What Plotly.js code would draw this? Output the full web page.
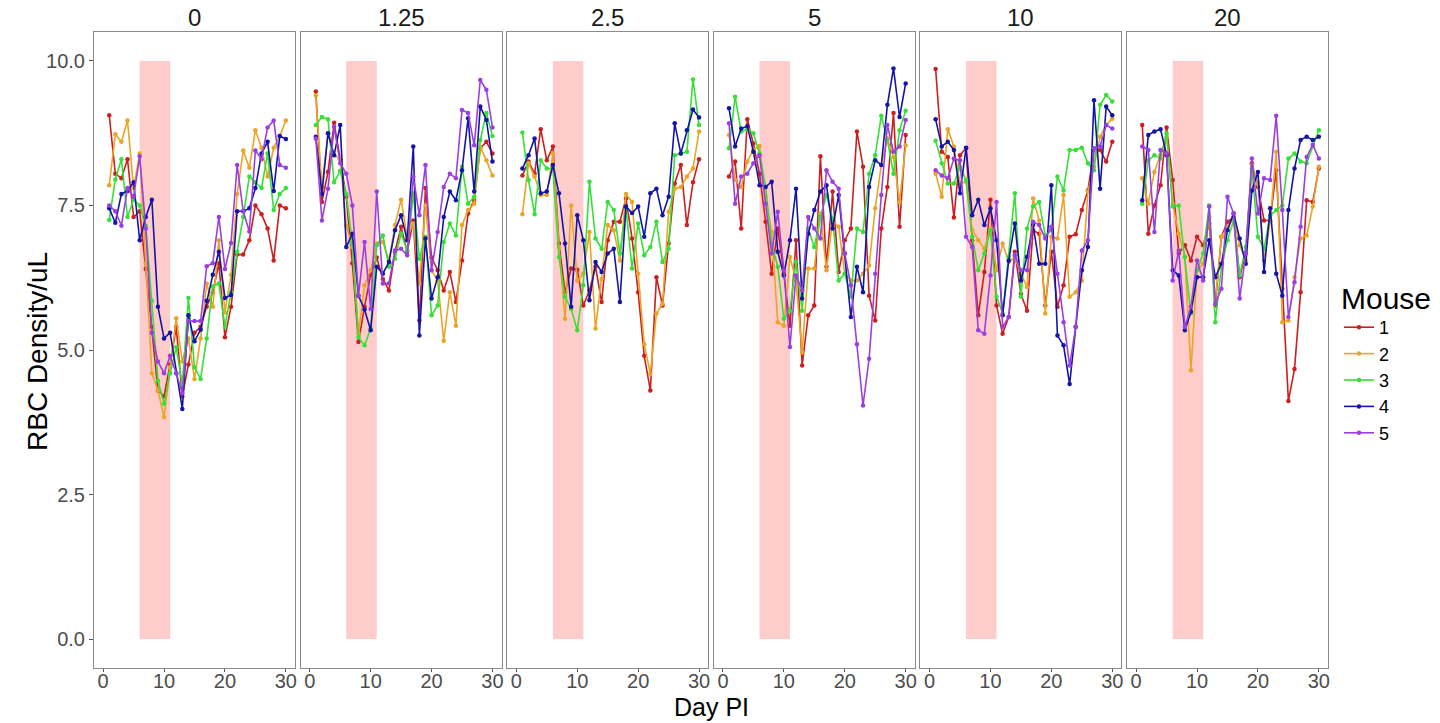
<!DOCTYPE html>
<html><head><meta charset="utf-8">
<script src="https://cdn.plot.ly/plotly-3.0.1.min.js"></script>
<style>html,body{margin:0;padding:0;background:#fff}#chart{width:1440px;height:723px}</style>
</head><body><div id="chart"></div>
<script>
// ---------------- data ----------------
const days = [1,2,3,4,5,6,7,8,9,10,11,12,13,14,15,16,17,18,19,20,21,22,23,24,25,26,27,28,29,30];
const groups = ["0", "1.25", "2.5", "5", "10", "20"];
const mice = ["1", "2", "3", "4", "5"];
const mouseColors = ["#cc1f1f", "#eba526", "#36e036", "#1414a6", "#9b3fe0"];
const shadeDays = [6, 11];
const shadeRBC = [0, 10];
const yTickVals = [0, 2.5, 5, 7.5, 10];
const xTickVals = [0, 10, 20, 30];

// group "0"
const g0_m1 = [9.06,8.05,7.97,8.3,7.3,7.4,6.4,5.4,4.3,4.2,4.75,5.4,4.2,4.75,5.3,5.4,5.75,6.0,6.5,5.22,5.75,6.65,6.65,6.9,7.5,7.35,7.1,6.55,7.5,7.45];
const g0_m2 = [7.85,8.73,8.6,8.97,7.8,8.4,6.5,4.6,4.3,3.84,4.7,5.55,4.8,5.2,4.5,5.2,6.15,5.75,6.9,5.65,6.3,7.7,8.45,8.15,8.8,8.5,8.0,8.5,8.7,8.97];
const g0_m3 = [7.25,7.95,8.3,7.3,7.6,7.5,7.15,5.85,4.47,4.07,4.6,5.05,4.4,5.9,4.7,4.5,5.2,6.1,6.15,5.4,6.0,6.7,7.3,8.0,7.9,7.8,8.4,7.42,7.7,7.8];
const g0_m4 = [7.45,7.2,7.7,7.75,7.9,6.9,7.3,7.6,5.75,5.2,5.3,4.6,3.98,5.6,5.15,5.35,5.85,6.3,6.7,5.9,5.95,7.4,7.4,7.45,7.8,8.4,8.6,7.75,8.7,8.65];
const g0_m5 = [7.5,7.4,7.15,7.8,7.65,8.35,7.1,5.3,4.8,4.6,4.9,4.6,4.25,5.5,5.5,5.5,6.45,6.5,7.3,6.4,6.85,8.2,7.4,7.05,8.45,8.3,8.85,8.97,8.2,8.15];
// group "1.25"
const g1_m1 = [9.47,7.56,8.08,8.93,8.3,7.65,6.5,5.14,5.75,6.3,6.6,6.23,6.03,6.7,7.13,6.7,7.24,5.51,7.8,6.6,6.38,6.03,6.35,5.83,6.55,7.36,7.6,8.49,8.6,8.4];
const g1_m2 = [9.4,7.82,8.75,8.37,8.3,7.15,6.78,5.28,6.12,6.38,6.84,6.87,6.55,7.16,7.6,6.95,7.19,6.15,7.5,6.38,6.2,5.16,6.0,5.42,7.16,7.42,7.53,8.51,8.28,8.02];
const g1_m3 = [8.89,9.03,8.99,7.9,8.1,7.7,6.84,5.22,5.08,5.37,6.81,6.98,6.44,6.58,7.01,6.72,7.71,6.58,6.96,5.6,5.77,6.87,7.19,6.98,8.17,7.53,7.65,8.63,9.1,8.7];
const g1_m4 = [8.69,7.7,8.75,8.37,8.89,6.78,7.01,5.94,5.7,5.34,6.44,6.32,6.52,7.07,7.33,6.9,8.52,5.25,6.93,5.89,6.26,7.3,7.74,7.59,8.11,9.01,7.74,9.21,8.98,8.26];
const g1_m5 = [8.66,7.24,7.79,8.86,8.23,8.05,7.5,5.94,6.87,5.71,7.74,6.15,6.15,6.72,6.75,6.64,8.0,7.33,8.2,6.38,7.04,7.82,8.05,7.97,9.15,9.1,8.54,9.67,9.5,8.85];
// group "2.5" (no mouse 5)
const g2_m1 = [8.02,8.26,8.05,8.82,8.28,8.52,6.84,6.0,6.41,6.39,5.77,6.03,6.44,5.83,6.9,7.22,7.22,7.62,6.93,6.0,4.9,4.3,6.26,5.77,6.84,7.88,8.2,7.16,7.9,8.3];
const g2_m2 = [7.35,8.23,8.0,7.68,7.68,8.4,6.78,5.54,7.5,6.2,6.32,7.04,5.37,6.23,7.16,7.07,6.55,7.7,7.56,6.32,5.1,4.59,5.63,5.8,7.39,7.79,7.82,8.0,8.14,8.78];
const g2_m3 = [8.76,7.94,7.35,8.28,8.14,8.14,6.61,5.92,5.71,5.34,6.12,7.91,6.93,6.75,7.56,7.42,6.67,7.45,6.41,7.19,6.64,6.78,7.22,6.52,6.75,8.37,8.4,8.43,9.68,8.89];
const g2_m4 = [8.14,8.37,8.66,7.71,7.74,8.2,7.71,6.84,5.75,7.33,6.9,5.86,6.52,6.35,6.67,6.75,5.83,7.48,7.37,7.48,6.96,7.71,7.79,7.33,7.65,8.92,8.4,8.8,9.16,9.02];
// group "5"
const g3_m1 = [8.0,8.26,7.1,8.99,8.57,8.05,7.22,6.32,7.1,6.32,5.42,6.9,4.73,5.6,5.77,8.35,6.44,7.74,6.35,6.9,7.1,8.78,8.17,5.94,5.51,7.1,7.82,9.1,7.13,8.72];
const g3_m2 = [8.72,7.94,7.82,8.26,8.46,8.53,7.65,7.04,5.48,5.42,6.61,6.2,4.96,6.41,6.41,7.36,6.38,7.24,7.13,6.32,6.2,6.2,6.32,6.46,7.45,8.2,8.66,8.34,7.56,8.54];
const g3_m3 = [8.49,9.38,8.78,8.82,8.75,8.4,7.82,6.84,6.44,5.54,5.68,6.52,5.68,7.1,6.78,7.3,7.68,7.27,6.2,6.32,5.92,7.1,7.04,8.05,8.37,9.05,8.63,8.05,8.8,9.14];
const g3_m4 = [9.18,8.52,8.83,8.87,8.43,7.85,7.82,7.91,6.7,6.29,6.9,7.79,5.89,7.01,7.42,7.74,7.85,7.1,7.68,6.67,5.57,6.44,6.0,7.82,8.28,8.2,9.24,9.87,9.03,9.61];
const g3_m5 = [8.92,7.53,8.0,8.05,8.23,8.37,7.53,6.67,7.39,6.38,5.05,6.29,6.03,7.3,7.1,6.93,8.11,7.91,7.79,6.67,6.12,5.1,4.04,4.85,6.32,7.68,8.89,8.43,8.52,8.98];
// group "10"
const g4_m1 = [9.86,8.43,8.34,7.29,8.37,8.49,6.9,5.6,6.35,7.6,5.77,5.28,5.57,6.7,5.97,5.68,7.07,7.01,5.77,6.7,5.75,6.12,6.96,7.0,7.42,7.76,8.46,8.46,8.26,8.6];
const g4_m2 = [8.05,7.65,8.82,8.52,7.88,7.91,7.07,6.9,6.75,7.1,6.38,6.84,6.52,6.61,6.32,6.09,7.62,7.24,5.63,6.96,6.93,7.68,5.92,6.0,6.2,7.74,8.17,8.69,8.89,9.0];
const g4_m3 = [8.62,8.23,7.88,7.88,8.17,7.94,6.96,6.38,6.67,7.07,5.92,5.63,6.61,7.71,5.92,7.1,7.48,7.56,6.98,7.07,8.0,7.76,8.46,8.46,8.5,8.23,8.11,9.24,9.41,9.3];
const g4_m4 = [8.99,8.52,8.6,8.46,7.71,8.5,7.33,7.6,7.16,7.45,6.9,5.6,6.55,7.19,6.2,6.61,7.16,6.49,6.49,7.85,5.25,5.08,4.41,5.4,6.38,6.78,9.32,7.79,9.21,9.06];
const g4_m5 = [8.11,8.02,7.97,8.31,8.28,6.96,6.78,5.34,5.28,6.29,7.56,5.4,5.57,6.64,6.38,6.38,7.22,7.16,6.93,7.13,6.32,5.48,4.73,5.4,6.72,6.9,8.49,8.52,8.89,8.83];
// group "20"
const g5_m1 = [8.89,7.01,7.5,7.85,8.85,7.94,6.67,6.81,6.55,6.96,6.81,7.19,5.77,6.96,7.22,7.3,6.26,6.67,8.23,7.82,7.24,7.24,8.11,6.06,4.12,4.67,6.0,7.59,7.56,8.14];
const g5_m2 = [7.97,7.53,8.08,8.37,8.69,7.53,7.01,6.61,4.65,6.38,6.49,7.3,5.85,6.96,7.13,7.27,6.81,6.55,8.2,7.88,6.55,7.22,8.43,5.48,5.51,6.26,6.93,6.98,7.48,8.17];
const g5_m3 = [7.53,8.28,8.37,8.31,8.75,7.48,7.5,6.61,5.63,6.38,6.67,7.5,5.48,6.44,6.9,7.24,6.29,6.78,8.14,6.96,6.75,7.33,7.42,7.5,8.31,8.4,8.26,8.23,8.52,8.8];
const g5_m4 = [7.59,8.72,8.78,8.82,8.37,6.38,6.29,5.34,5.66,6.26,6.26,6.9,6.26,6.49,7.07,7.36,6.93,6.49,7.76,8.08,6.35,7.45,6.32,5.94,7.42,8.14,8.63,8.69,8.63,8.69];
const g5_m5 = [8.52,8.46,7.04,8.46,8.4,6.2,6.72,5.4,5.75,6.55,6.2,7.48,5.8,6.06,7.65,7.36,5.89,6.67,8.31,7.36,7.97,7.94,9.05,7.42,5.57,6.17,7.13,8.34,8.55,8.31];

const groupSeries = [
  [g0_m1, g0_m2, g0_m3, g0_m4, g0_m5],
  [g1_m1, g1_m2, g1_m3, g1_m4, g1_m5],
  [g2_m1, g2_m2, g2_m3, g2_m4, null],
  [g3_m1, g3_m2, g3_m3, g3_m4, g3_m5],
  [g4_m1, g4_m2, g4_m3, g4_m4, g4_m5],
  [g5_m1, g5_m2, g5_m3, g5_m4, g5_m5]
];

// ---------------- layout geometry ----------------
const W = 1440, H = 723;
const panelLeft0 = 94, panelStep = 206.6, panelW = 201;
const panelTop = 32, panelBottom = 668;
const FONT = "Liberation Sans, Arial, Helvetica, sans-serif";
const tickFont = {family: FONT, size: 20, color: "#4d4d4d"};
const borderColor = "#8a8a8a";

const traces = [];
const layout = {
  width: W, height: H,
  margin: {l: 0, r: 0, t: 0, b: 0},
  paper_bgcolor: "#fff", plot_bgcolor: "#fff",
  font: {family: FONT, color: "#000"},
  showlegend: true,
  legend: {
    x: 1339 / W, y: 1 - 270 / H, xanchor: "left", yanchor: "top",
    bgcolor: "rgba(0,0,0,0)",
    font: {family: FONT, size: 18, color: "#000"},
    title: {text: "Mouse", font: {family: FONT, size: 30, color: "#000"}},
    itemwidth: 30, tracegroupgap: 0
  },
  shapes: [],
  annotations: []
};

const yDomain = [(H - panelBottom) / H, (H - panelTop) / H];

groups.forEach((g, k) => {
  const sfx = k === 0 ? "" : String(k + 1);
  const xName = "xaxis" + sfx, yName = "yaxis" + sfx;
  const xRef = "x" + sfx, yRef = "y" + sfx;
  const left = panelLeft0 + k * panelStep;
  layout[xName] = {
    domain: [left / W, (left + panelW) / W],
    anchor: yRef,
    range: [-1.5, 31.5],
    tickvals: xTickVals,
    ticks: "outside", ticklen: 3, tickcolor: "#555", tickwidth: 1,
    ticklabelstandoff: -8,
    tickfont: tickFont,
    showgrid: false, zeroline: false,
    showline: true, mirror: true, linecolor: borderColor, linewidth: 1,
    automargin: false, fixedrange: true
  };
  layout[yName] = {
    domain: yDomain,
    anchor: xRef,
    range: [-0.5, 10.5],
    tickvals: yTickVals,
    tickformat: ".1f",
    ticks: k === 0 ? "outside" : "",
    ticklen: 4, tickcolor: "#555",
    showticklabels: k === 0,
    tickfont: tickFont,
    showgrid: false, zeroline: false,
    showline: true, mirror: true, linecolor: borderColor, linewidth: 1,
    automargin: false, fixedrange: true
  };
  // shaded treatment window
  layout.shapes.push({
    type: "rect", xref: xRef, yref: yRef, layer: "below",
    x0: shadeDays[0], x1: shadeDays[1], y0: shadeRBC[0], y1: shadeRBC[1],
    fillcolor: "#ffcccc", line: {width: 0}
  });
  // facet strip label
  layout.annotations.push({
    text: g, xref: "paper", yref: "paper",
    x: (left + panelW / 2) / W, y: 1 - 17 / H,
    xanchor: "center", yanchor: "middle", showarrow: false,
    font: {family: FONT, size: 24, color: "#1a1a1a"}
  });
  groupSeries[k].forEach((vals, m) => {
    if (!vals) return;
    traces.push({
      type: "scatter", mode: "lines+markers",
      x: days, y: vals,
      xaxis: xRef, yaxis: yRef,
      name: mice[m], legendgroup: mice[m],
      showlegend: k === 0,
      line: {color: mouseColors[m], width: 1.6},
      marker: {color: mouseColors[m], size: 4.5},
      hoverinfo: "skip"
    });
  });
});

// axis titles
layout.annotations.push({
  text: "RBC Density/uL", xref: "paper", yref: "paper",
  x: 37 / W, y: 1 - 352 / H, textangle: -90,
  xanchor: "center", yanchor: "middle", showarrow: false,
  font: {family: FONT, size: 28, color: "#000"}
});
layout.annotations.push({
  text: "Day PI", xref: "paper", yref: "paper",
  x: (panelLeft0 + 5 * panelStep + panelW + panelLeft0) / 2 / W, y: 1 - 707 / H,
  xanchor: "center", yanchor: "middle", showarrow: false,
  font: {family: FONT, size: 25, color: "#000"}
});

Plotly.newPlot("chart", traces, layout, {staticPlot: true, displayModeBar: false});
</script>
</body></html>
